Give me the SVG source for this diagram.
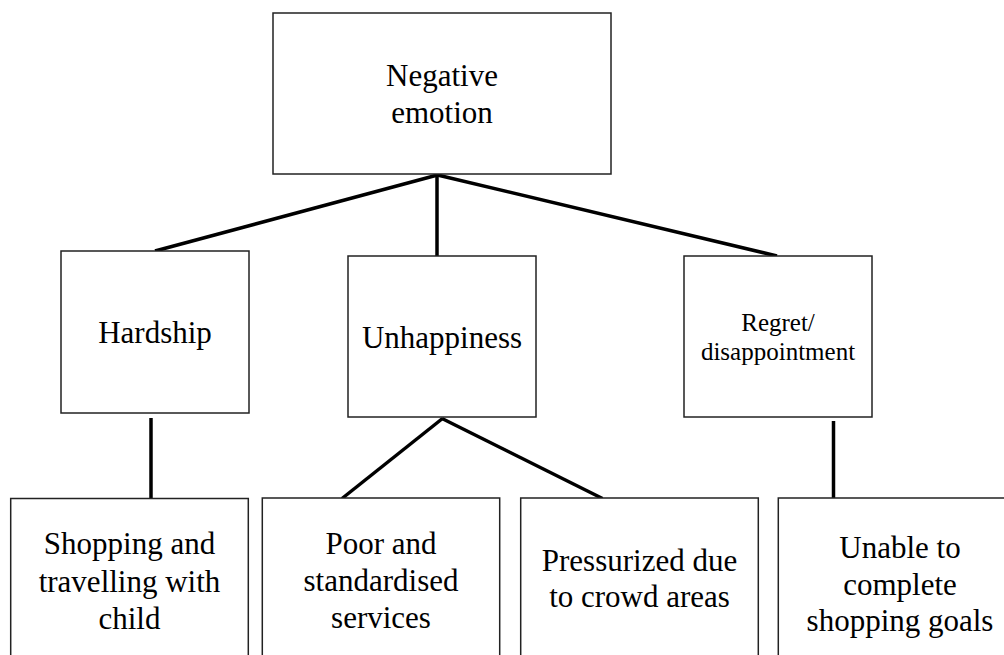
<svg xmlns="http://www.w3.org/2000/svg" width="1004" height="655" viewBox="0 0 1004 655">
  <style>
    .box { fill: #ffffff; stroke: #222222; stroke-width: 1.5; }
    .link { stroke: #000000; stroke-width: 3.5; fill: none; stroke-linecap: butt; }
    .label { font-family: 'Liberation Serif', 'DejaVu Serif', serif; font-size: 31px; fill: #000000; text-anchor: middle; }
    .small { font-size: 25px; }
  </style>
  <rect width="1004" height="655" fill="#ffffff"/>

  <!-- connectors -->
  <g id="connectors">
    <line class="link" x1="437.5" y1="175" x2="155" y2="251"/>
    <line class="link" x1="437" y1="174" x2="437" y2="259"/>
    <line class="link" x1="437.5" y1="175" x2="777" y2="256"/>
    <line class="link" x1="151" y1="418" x2="151" y2="499"/>
    <line class="link" x1="442.5" y1="418.5" x2="342" y2="498.5"/>
    <line class="link" x1="442" y1="418.5" x2="602.5" y2="498.5"/>
    <line class="link" x1="833.5" y1="421" x2="833.5" y2="501"/>
  </g>

  <!-- root -->
  <g id="negative-emotion">
    <rect class="box" x="273" y="13" width="338" height="161"/>
    <text class="label" x="442" y="86">Negative</text>
    <text class="label" x="442" y="123">emotion</text>
  </g>

  <!-- second level -->
  <g id="hardship">
    <rect class="box" x="61" y="251" width="188" height="162"/>
    <text class="label" x="155" y="343">Hardship</text>
  </g>
  <g id="unhappiness">
    <rect class="box" x="348" y="256" width="188" height="161"/>
    <text class="label" x="442" y="348">Unhappiness</text>
  </g>
  <g id="regret">
    <rect class="box" x="684" y="256" width="188" height="161"/>
    <text class="label small" x="778" y="331">Regret/</text>
    <text class="label small" x="778" y="360">disappointment</text>
  </g>

  <!-- third level -->
  <g id="shopping-child">
    <rect class="box" x="10.7" y="498.5" width="237.6" height="200"/>
    <text class="label" x="129.5" y="554">Shopping and</text>
    <text class="label" x="129.5" y="591.5">travelling with</text>
    <text class="label" x="129.5" y="628.5">child</text>
  </g>
  <g id="poor-services">
    <rect class="box" x="262.3" y="498" width="237.4" height="200"/>
    <text class="label" x="381" y="553.5">Poor and</text>
    <text class="label" x="381" y="590.5">standardised</text>
    <text class="label" x="381" y="627.5">services</text>
  </g>
  <g id="crowd-areas">
    <rect class="box" x="520.7" y="498" width="237.6" height="200"/>
    <text class="label" x="639.5" y="571">Pressurized due</text>
    <text class="label" x="639.5" y="607">to crowd areas</text>
  </g>
  <g id="shopping-goals">
    <rect class="box" x="778.3" y="498" width="244" height="200"/>
    <text class="label" x="900" y="558">Unable to</text>
    <text class="label" x="900" y="595">complete</text>
    <text class="label" x="900" y="631">shopping goals</text>
  </g>
</svg>
